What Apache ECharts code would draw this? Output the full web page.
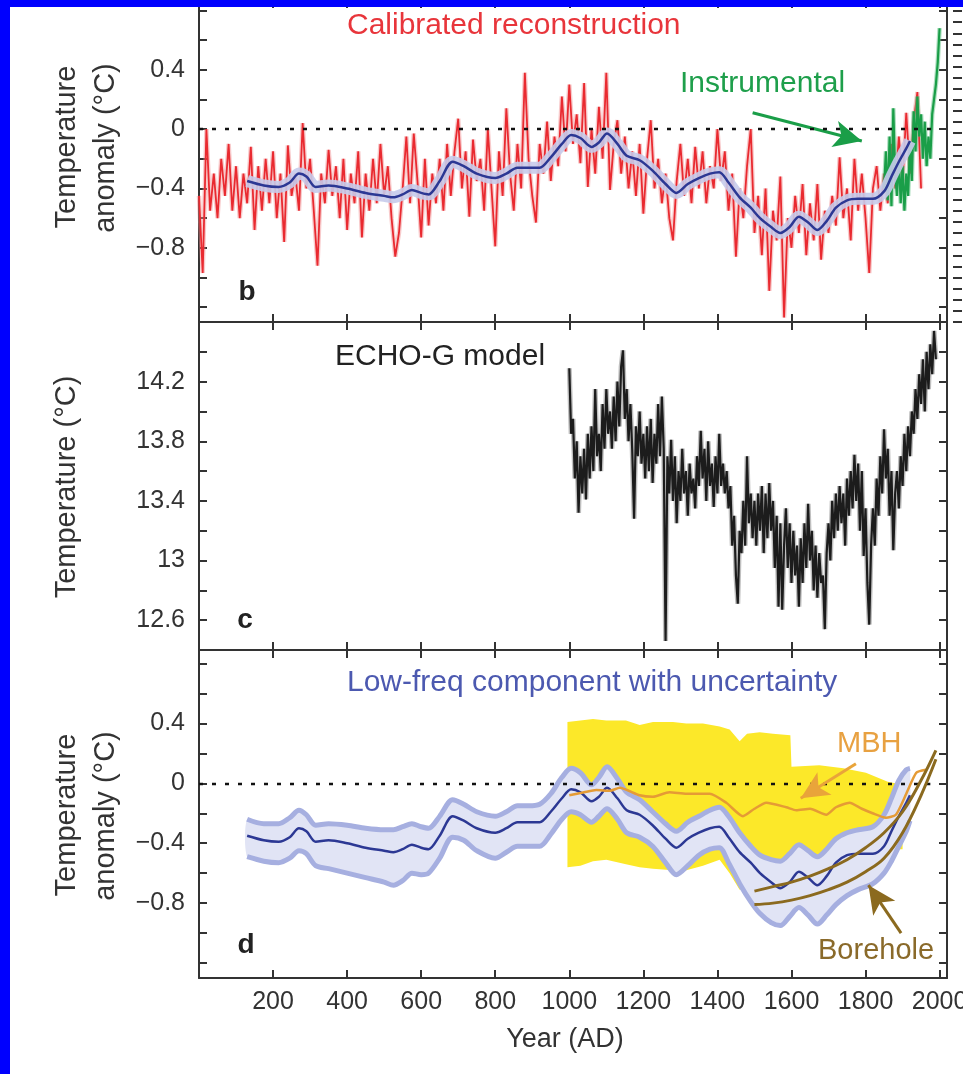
<!DOCTYPE html>
<html>
<head>
<meta charset="utf-8">
<title>Temperature reconstruction panels</title>
<script src="https://cdn.jsdelivr.net/npm/echarts@6/dist/echarts.min.js"></script>
<style>
  html, body { margin: 0; padding: 0; background: #fff; }
  #main { position: absolute; left: 0; top: 0; width: 963px; height: 1074px; background: #fff; }
  .edge { position: absolute; background: #0000fe; z-index: 5; }
</style>
</head>
<body>
<div id="main"></div>
<div class="edge" style="left:0;top:0;width:10px;height:1074px"></div>
<div class="edge" style="left:0;top:0;width:963px;height:7px"></div>
<script>
// tick labels
const yearLabels = [200, 400, 600, 800, 1000, 1200, 1400, 1600, 1800, 2000];
const anomalyLabels = [0.4, 0, -0.4, -0.8];
const echoLabels = [14.2, 13.8, 13.4, 13, 12.6];

// panel b: calibrated reconstruction, one value every 10 years from year 0
const calibratedStart = 0;
const calibratedStep = 10;
const calibrated = [
  -0.45, -0.97, 0.00, -0.55, -0.30, -0.60, -0.20, -0.45, -0.10, -0.55,
  -0.25, -0.60, -0.30, -0.50, -0.12, -0.68, -0.25, -0.55, -0.20, -0.50,
  -0.15, -0.60, -0.30, -0.76, -0.11, -0.45, -0.30, -0.55, 0.04, -0.40,
  -0.20, -0.55, -0.92, -0.30, -0.50, -0.14, -0.45, -0.25, -0.60, -0.20,
  -0.68, -0.30, -0.50, -0.15, -0.73, -0.30, -0.55, -0.20, -0.50, -0.10,
  -0.45, -0.25, -0.60, -0.86, -0.70, -0.40, -0.05, -0.50, -0.03, -0.35,
  -0.73, -0.20, -0.65, -0.30, -0.50, -0.20, -0.55, -0.10, -0.45, -0.15,
  0.07, -0.40, -0.15, -0.59, -0.07, -0.35, -0.20, -0.55, 0.00, -0.40,
  -0.79, -0.15, -0.45, 0.14, -0.30, -0.55, -0.10, -0.40, 0.38, -0.20,
  -0.45, -0.63, -0.10, -0.30, 0.05, -0.35, -0.05, -0.25, 0.22, -0.15,
  0.30, -0.10, 0.10, -0.23, 0.31, -0.39, 0.00, -0.30, 0.15, -0.20,
  0.38, -0.41, -0.10, 0.06, -0.30, -0.05, -0.40, -0.15, -0.45, -0.10,
  -0.57, -0.20, 0.06, -0.40, -0.20, -0.50, -0.30, -0.60, -0.75, -0.35,
  -0.10, -0.45, -0.20, -0.50, -0.12, -0.40, -0.15, -0.50, -0.25, -0.40,
  0.00, -0.35, -0.15, -0.55, -0.30, -0.86, -0.40, -0.60, -0.25, 0.00,
  -0.70, -0.45, -0.85, -0.40, -1.09, -0.55, -0.75, -0.32, -1.27, -0.60,
  -0.80, -0.45, -0.70, -0.37, -0.85, -0.50, -0.75, -0.37, -0.88, -0.55,
  -0.70, -0.45, -0.65, -0.19, -0.60, -0.40, -0.75, -0.20, -0.55, -0.30,
  -0.60, -0.97, -0.40, -0.25, -0.55, -0.30, -0.50, -0.10, -0.40, -0.05,
  -0.35, 0.11, -0.30, 0.05, 0.25, -0.40
];

// instrumental record, every 5 years from 1850
const instrumentalStart = 1850;
const instrumentalStep = 5;
const instrumental = [
  -0.40, -0.15, -0.48, -0.05, -0.52, 0.14, -0.30, -0.45, -0.20, -0.50,
  -0.25, -0.55, -0.30, -0.45, -0.10, -0.35, 0.12, -0.15, 0.22, -0.05,
  0.10, -0.20, 0.05, -0.25, -0.05, -0.20, 0.10, 0.20, 0.30, 0.45, 0.68
];

// low-frequency component (panels b and d)
const lowFreqYears = [130, 175, 215, 245, 270, 290, 315, 350, 400, 450,
  500, 525, 550, 575, 600, 620, 650, 685, 715, 750,
  800, 830, 860, 890, 920, 950, 980, 1005, 1030, 1060,
  1080, 1102, 1130, 1155, 1190, 1225, 1260, 1289, 1320, 1350,
  1380, 1405, 1430, 1460, 1490, 1515, 1545, 1570, 1595, 1620,
  1645, 1670, 1695, 1720, 1750, 1780, 1820, 1850, 1870, 1890,
  1910, 1920];
const lowFreq = [-0.35, -0.38, -0.39, -0.36, -0.30, -0.32, -0.39, -0.38, -0.40, -0.43,
  -0.45, -0.46, -0.44, -0.41, -0.43, -0.44, -0.35, -0.22, -0.25, -0.30,
  -0.33, -0.30, -0.26, -0.26, -0.26, -0.19, -0.10, -0.04, -0.06, -0.12,
  -0.09, -0.03, -0.10, -0.18, -0.21, -0.28, -0.37, -0.43, -0.37, -0.33,
  -0.30, -0.29, -0.36, -0.46, -0.53, -0.60, -0.66, -0.70, -0.66, -0.59,
  -0.63, -0.68, -0.62, -0.53, -0.48, -0.47, -0.47, -0.42, -0.32, -0.22,
  -0.13, -0.08];
const lowFreqUpper = [-0.24, -0.27, -0.27, -0.23, -0.18, -0.21, -0.28, -0.27, -0.28, -0.30,
  -0.31, -0.31, -0.29, -0.27, -0.29, -0.30, -0.22, -0.11, -0.14, -0.19,
  -0.22, -0.19, -0.15, -0.15, -0.14, -0.07, 0.04, 0.10, 0.07, -0.01,
  0.04, 0.11, 0.03, -0.06, -0.11, -0.19, -0.27, -0.32, -0.26, -0.22,
  -0.18, -0.16, -0.22, -0.33, -0.42, -0.48, -0.51, -0.52, -0.47, -0.41,
  -0.45, -0.49, -0.44, -0.37, -0.33, -0.31, -0.29, -0.21, -0.10, 0.02,
  0.09, 0.10];
const lowFreqLower = [-0.49, -0.52, -0.53, -0.50, -0.45, -0.47, -0.55, -0.57, -0.60, -0.63,
  -0.66, -0.68, -0.65, -0.60, -0.61, -0.60, -0.50, -0.36, -0.38, -0.45,
  -0.50, -0.46, -0.42, -0.42, -0.42, -0.34, -0.24, -0.19, -0.21, -0.26,
  -0.22, -0.17, -0.24, -0.33, -0.36, -0.42, -0.53, -0.61, -0.55, -0.48,
  -0.44, -0.43, -0.53, -0.67, -0.79, -0.87, -0.93, -0.95, -0.89, -0.83,
  -0.88, -0.94, -0.88, -0.81, -0.75, -0.71, -0.67, -0.60, -0.52, -0.42,
  -0.32, -0.25];

// panel c: ECHO-G model, every 5 years from 1000
const echoStart = 1000;
const echoStep = 5;
const echoG = [
  14.29, 13.85, 13.95, 13.55, 13.80, 13.32, 13.70, 13.45, 13.75, 13.41, 13.85, 13.55, 13.90, 13.60, 14.15, 13.70, 13.85, 13.60, 14.05, 13.75,
  14.15, 13.85, 14.00, 13.75, 14.10, 13.80, 14.20, 13.90, 14.30, 14.41, 13.95, 14.15, 13.80, 14.05, 13.74, 13.28, 13.90, 13.70, 14.00, 13.65,
  13.85, 13.55, 13.90, 13.60, 13.95, 13.52, 13.85, 13.65, 14.05, 13.70, 14.10, 13.75, 12.46, 13.70, 13.45, 13.81, 13.40, 13.70, 13.25, 13.60,
  13.40, 13.75, 13.45, 13.60, 13.30, 13.65, 13.45, 13.55, 13.35, 13.70, 13.50, 13.87, 13.55, 13.75, 13.40, 13.80, 13.50, 13.65, 13.36, 13.70,
  13.45, 13.85, 13.50, 13.65, 13.45, 13.60, 13.35, 13.50, 13.10, 13.30, 12.90, 12.71, 13.20, 13.05, 13.40, 13.10, 13.70, 13.25, 13.45, 13.15,
  13.40, 13.10, 13.45, 13.20, 13.50, 13.05, 13.45, 13.15, 13.52, 13.20, 13.40, 12.95, 13.30, 12.69, 13.25, 12.67, 13.10, 13.35, 12.95, 13.25,
  12.85, 13.20, 12.90, 13.10, 12.69, 13.15, 12.85, 13.25, 12.95, 13.38, 13.00, 13.20, 12.80, 13.10, 12.75, 13.05, 12.85, 12.90, 12.54, 13.05,
  13.25, 13.00, 13.40, 13.15, 13.45, 13.20, 13.50, 13.25, 13.45, 13.10, 13.55, 13.30, 13.60, 13.35, 13.71, 13.40, 13.65, 13.20, 13.60, 13.03,
  13.35, 12.85, 12.57, 13.10, 13.35, 13.10, 13.55, 13.30, 13.70, 13.45, 13.88, 13.55, 13.75, 13.30, 13.60, 13.07, 13.45, 13.60, 13.35, 13.70,
  13.50, 13.85, 13.60, 13.90, 13.70, 14.00, 13.85, 14.15, 13.95, 14.25, 14.05, 14.35, 14.00, 14.40, 14.15, 14.45, 14.25, 14.54, 14.35
];

// panel d: yellow envelope, MBH, borehole
const yellowYears = [995, 1030, 1064, 1100, 1153, 1190, 1226, 1280, 1316, 1361, 1406, 1433,
  1460, 1480, 1514, 1550, 1597, 1600, 1675, 1740, 1801, 1860, 1900];
const yellowUpper = [0.41, 0.42, 0.43, 0.42, 0.42, 0.39, 0.41, 0.41, 0.40, 0.40, 0.38, 0.36,
  0.28, 0.33, 0.34, 0.33, 0.32, 0.11, 0.12, 0.10, 0.07, 0.01, -0.01];
const yellowLower = [-0.56, -0.55, -0.52, -0.51, -0.54, -0.56, -0.57, -0.58, -0.58, -0.55, -0.51, -0.60,
  -0.71, -0.70, -0.68, -0.62, -0.56, -0.55, -0.48, -0.45, -0.45, -0.44, -0.44];

const mbhYears = [1000, 1040, 1073, 1110, 1136, 1190, 1226, 1270, 1316, 1379, 1424, 1469, 1500, 1532,
  1586, 1613, 1650, 1694, 1720, 1757, 1790, 1819, 1855, 1882, 1910, 1937, 1963];
const mbh = [-0.08, -0.06, -0.045, -0.05, -0.03, -0.08, -0.09, -0.06, -0.07, -0.07, -0.13, -0.22, -0.17, -0.13,
  -0.16, -0.18, -0.17, -0.21, -0.16, -0.13, -0.17, -0.20, -0.23, -0.21, -0.07, 0.07, 0.09];

const boreholeYears = [1500, 1550, 1600, 1650, 1700, 1750, 1800, 1850, 1900, 1950, 1990];
const boreholeUpper = [-0.72, -0.69, -0.66, -0.62, -0.57, -0.51, -0.43, -0.33, -0.19, 0.02, 0.22];
const boreholeLower = [-0.81, -0.80, -0.78, -0.75, -0.71, -0.66, -0.59, -0.50, -0.33, -0.08, 0.16];

// annotation arrows [from, to] in data units
const instrumentalArrow = [[1495, 0.11], [1790, -0.08]];
const mbhArrow = [[1774, 0.13], [1625, -0.10]];
const boreholeArrow = [[1896, -1.0], [1808, -0.68]];

const FONT = '"Liberation Sans", Arial, Helvetica, sans-serif';
const INK = '#333';

const chart = echarts.init(document.getElementById('main'));

const pairs = (xs, ys) => xs.map((x, i) => [x, ys[i]]);
const stepped = (start, step, ys) => ys.map((y, i) => [start + i * step, y]);
const fmtNum = (n) => (n < 0 ? '\u2212' + Math.abs(n) : String(n));
const pickLabel = (list) => (v) => {
  const hit = list.find((l) => Math.abs(l - v) < 1e-6);
  return hit === undefined ? '' : fmtNum(hit);
};

const lineStyleAxis = { color: INK, width: 2 };
const tick = { show: true, inside: true, length: 8, lineStyle: lineStyleAxis };

const grids = [
  { left: 199, top: 0, width: 748, height: 322 },
  { left: 199, top: 322, width: 748, height: 328 },
  { left: 199, top: 650, width: 748, height: 328 },
  { left: 962, top: 0, width: 100, height: 322 },
].map((g) => ({ ...g, containLabel: false, outerBoundsMode: 'none' }));

const xAxes = [];
[0, 1, 2].forEach((g) => {
  const base = {
    type: 'value', gridIndex: g, min: 0, max: 2020, interval: 200,
    splitLine: { show: false },
    axisLine: { show: true, onZero: false, lineStyle: lineStyleAxis },
    axisTick: tick,
  };
  xAxes.push({
    ...base, position: 'bottom',
    axisLabel: g === 2
      ? { show: true, margin: 12, fontSize: 25, color: INK, fontFamily: FONT,
          formatter: (v) => (yearLabels.includes(v) ? String(v) : '') }
      : { show: false },
  });
  xAxes.push({ ...base, position: 'top', axisLabel: { show: false } });
});
xAxes.push({ type: 'value', gridIndex: 3, show: false, min: 0, max: 1 });

const yRanges = [
  { min: -1.3, max: 0.87, labels: anomalyLabels },
  { min: 12.4, max: 14.6, labels: echoLabels },
  { min: -1.3, max: 0.89, labels: anomalyLabels },
];
const yAxes = [];
yRanges.forEach((r, g) => {
  const base = {
    type: 'value', gridIndex: g, min: r.min, max: r.max,
    splitLine: { show: false },
    axisLine: { show: true, onZero: false, lineStyle: lineStyleAxis },
    axisTick: tick,
  };
  if (g === 1) base.interval = 0.2;
  else { base.minInterval = 0.2; base.maxInterval = 0.2; base.splitNumber = 10; }
  yAxes.push({
    ...base, position: 'left',
    axisLabel: { show: true, margin: 14, fontSize: 25, color: INK, fontFamily: FONT,
      formatter: pickLabel(r.labels) },
  });
  yAxes.push({ ...base, position: 'right', axisLabel: { show: false } });
});
// neighbouring panel's axis, only its ticks show at the right edge
yAxes.push({
  type: 'value', gridIndex: 3, position: 'left', min: 0, max: 29, interval: 1,
  splitLine: { show: false },
  axisLine: { show: false },
  axisTick: { show: true, inside: false, length: 9, lineStyle: { color: INK, width: 2 } },
  axisLabel: { show: false },
});

const zeroLine = (endYear) => ({
  silent: true, symbol: ['none', 'none'], label: { show: false },
  lineStyle: { color: '#111', width: 2.4, type: [4, 9] },
  data: [[{ coord: [0, 0] }, { coord: [endYear, 0] }]],
});
const arrow = (pts, color, width) => ({
  silent: true, label: { show: false },
  lineStyle: { color: color, width: width, type: 'solid' },
  data: [[
    { coord: pts[0], symbol: 'none' },
    { coord: pts[1], symbol: 'arrow', symbolSize: [20, 28] },
  ]],
});

const line = (opts) => ({
  type: 'line', showSymbol: false, symbol: 'none', silent: true,
  animation: false, ...opts,
});

// filled envelope between two curves, drawn through the axis scales
const envelope = (name, xs, upper, lower, color, smooth, z) => ({
  type: 'custom', name: name, xAxisIndex: 4, yAxisIndex: 4, z: z, silent: true,
  animation: false, clip: true,
  data: [[xs[0], upper[0]]],
  renderItem: (params, api) => {
    const top = xs.map((x, i) => api.coord([x, upper[i]]));
    const bottom = xs.map((x, i) => api.coord([x, lower[i]])).reverse();
    return {
      type: 'polygon',
      shape: { points: top.concat(bottom), smooth: smooth },
      style: { fill: color },
    };
  },
});

const calibratedData = stepped(calibratedStart, calibratedStep, calibrated);
const instrumentalData = stepped(instrumentalStart, instrumentalStep, instrumental);
const echoData = stepped(echoStart, echoStep, echoG);

const series = [
  // panel b
  line({ name: 'Calibrated halo', xAxisIndex: 0, yAxisIndex: 0, z: 1,
    data: calibratedData, lineStyle: { color: '#f08a8c', width: 4.5, opacity: 0.45 } }),
  line({ name: 'Calibrated reconstruction', xAxisIndex: 0, yAxisIndex: 0, z: 2,
    data: calibratedData, lineStyle: { color: '#e92a30', width: 1.8 } }),
  line({ name: 'Instrumental halo', xAxisIndex: 0, yAxisIndex: 0, z: 3,
    data: instrumentalData, lineStyle: { color: '#5fc184', width: 4.5, opacity: 0.5 } }),
  line({ name: 'Instrumental', xAxisIndex: 0, yAxisIndex: 0, z: 3,
    data: instrumentalData, lineStyle: { color: '#1a9e48', width: 2.2 },
    markLine: arrow(instrumentalArrow, '#1a9e48', 3) }),
  line({ name: 'band b', xAxisIndex: 0, yAxisIndex: 0, z: 4, smooth: 0.3,
    data: pairs(lowFreqYears, lowFreq),
    lineStyle: { color: '#c6cbeb', width: 12, opacity: 0.9 } }),
  line({ name: 'Low-freq b', xAxisIndex: 0, yAxisIndex: 0, z: 5, smooth: 0.3,
    data: pairs(lowFreqYears, lowFreq),
    lineStyle: { color: '#2c3894', width: 2.5 },
    markLine: zeroLine(1985) }),

  // panel c
  line({ name: 'ECHO-G halo', xAxisIndex: 2, yAxisIndex: 2, z: 1,
    data: echoData, lineStyle: { color: '#8a8a8a', width: 5, opacity: 0.55 } }),
  line({ name: 'ECHO-G model', xAxisIndex: 2, yAxisIndex: 2, z: 2,
    data: echoData, lineStyle: { color: '#1c1c1c', width: 2.2 } }),

  // panel d
  envelope('yellow', yellowYears, yellowUpper, yellowLower, '#fce829', 0, 1),
  envelope('band', lowFreqYears, lowFreqUpper, lowFreqLower, '#e1e4f5', 0.25, 2),
  line({ name: 'band upper', xAxisIndex: 4, yAxisIndex: 4, z: 3, smooth: 0.3,
    data: pairs(lowFreqYears, lowFreqUpper), lineStyle: { color: '#a6afe0', width: 5 } }),
  line({ name: 'band lower', xAxisIndex: 4, yAxisIndex: 4, z: 3, smooth: 0.3,
    data: pairs(lowFreqYears, lowFreqLower), lineStyle: { color: '#a6afe0', width: 5 } }),
  line({ name: 'Low-freq d', xAxisIndex: 4, yAxisIndex: 4, z: 4, smooth: 0.3,
    data: pairs(lowFreqYears, lowFreq), lineStyle: { color: '#2c3894', width: 2.5 },
    markLine: zeroLine(1975) }),
  line({ name: 'MBH', xAxisIndex: 4, yAxisIndex: 4, z: 5, smooth: 0.2,
    data: pairs(mbhYears, mbh), lineStyle: { color: '#e59b35', width: 2.5 },
    markLine: arrow(mbhArrow, '#e9a43a', 3) }),
  line({ name: 'Borehole upper', xAxisIndex: 4, yAxisIndex: 4, z: 6, smooth: 0.4,
    data: pairs(boreholeYears, boreholeUpper), lineStyle: { color: '#8b6a1f', width: 3 },
    markLine: arrow(boreholeArrow, '#8b6a1f', 3) }),
  line({ name: 'Borehole lower', xAxisIndex: 4, yAxisIndex: 4, z: 6, smooth: 0.4,
    data: pairs(boreholeYears, boreholeLower), lineStyle: { color: '#8b6a1f', width: 3 } }),
];

const txt = (x, y, text, color, size, extra) => ({
  type: 'text', x: x, y: y, silent: true, z: 100,
  style: Object.assign({
    text: text, fill: color, fontSize: size, fontFamily: FONT,
    align: 'left', verticalAlign: 'middle',
  }, extra || {}),
});
const vtxt = (x, y, text) => ({
  type: 'text', x: x, y: y, rotation: Math.PI / 2, silent: true, z: 100,
  style: { text: text, fill: INK, fontSize: 29, fontFamily: FONT, align: 'center', verticalAlign: 'middle' },
});

const graphic = [
  txt(347, 26, 'Calibrated reconstruction', '#e8353b', 30),
  txt(680, 84, 'Instrumental', '#1e9f4b', 30),
  txt(335, 357, 'ECHO-G model', '#222', 30),
  txt(347, 683, 'Low-freq component with uncertainty', '#4c59b0', 30),
  txt(837, 744, 'MBH', '#e8a141', 29),
  txt(818, 951, 'Borehole', '#8a6a2a', 29),
  txt(247, 292, 'b', '#222', 28, { fontWeight: 'bold', align: 'center' }),
  txt(245, 620, 'c', '#222', 28, { fontWeight: 'bold', align: 'center' }),
  txt(246, 945, 'd', '#222', 28, { fontWeight: 'bold', align: 'center' }),
  txt(565, 1040, 'Year (AD)', INK, 27, { align: 'center' }),
  vtxt(67, 147, 'Temperature'),
  vtxt(106, 148, 'anomaly (\u00B0C)'),
  vtxt(67, 487, 'Temperature (\u00B0C)'),
  vtxt(67, 815, 'Temperature'),
  vtxt(106, 816, 'anomaly (\u00B0C)'),
];

chart.setOption({
  animation: false,
  backgroundColor: '#fff',
  textStyle: { fontFamily: FONT },
  grid: grids,
  xAxis: xAxes,
  yAxis: yAxes,
  series: series,
  graphic: graphic,
});
</script>
</body>
</html>
